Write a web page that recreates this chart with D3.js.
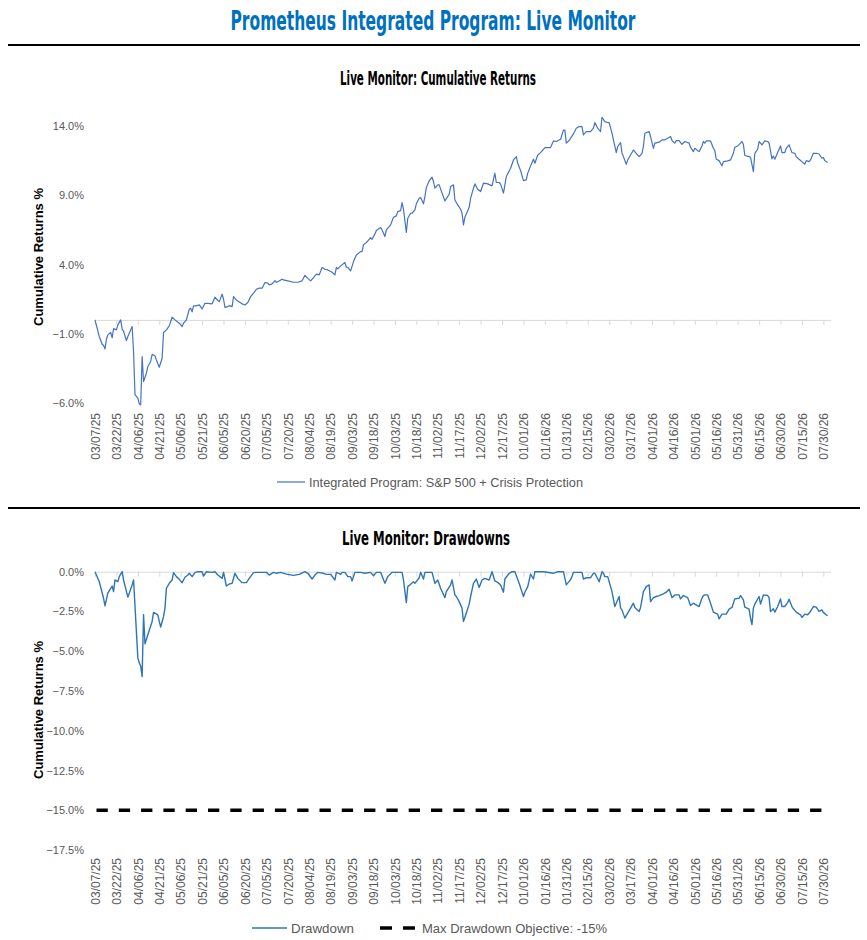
<!DOCTYPE html>
<html>
<head>
<meta charset="utf-8">
<script src="https://cdn.jsdelivr.net/npm/d3@7"></script>
<style>
body{margin:0;background:#fff;}
</style>
</head>
<body>
<svg></svg>
<script>
var w = 867
var h = 940

// dates on the x axis, every 15 days
var tickLabels = ["03/07/25","03/22/25","04/06/25","04/21/25","05/06/25","05/21/25","06/05/25","06/20/25",
	"07/05/25","07/20/25","08/04/25","08/19/25","09/03/25","09/18/25","10/03/25","10/18/25","11/02/25",
	"11/17/25","12/02/25","12/17/25","01/01/26","01/16/26","01/31/26","02/15/26","03/02/26","03/17/26",
	"04/01/26","04/16/26","05/01/26","05/16/26","05/31/26","06/15/26","06/30/26","07/15/26","07/30/26"]

var topTicks = [14, 9, 4, -1, -6]
var bottomTicks = [0, -2.5, -5, -7.5, -10, -12.5, -15, -17.5]

// [days since 03/07/25, cumulative return %]
var cumReturns = [[0,0],[3,-1.2],[5,-1.76],[6,-1.85],[7,-2.1],[8,-1.4],[9,-1.08],[11,-0.9],[12,-1.3],[13,-0.63],
	[15,-0.72],[16,-0.36],[18,0.0],[19,-0.67],[20,-0.82],[22,-1.5],[23,-1.2],[25,-0.72],[26,-0.48],[27,-2.3],
	[28,-5.4],[30,-5.65],[31,-6.06],[32,-6.14],[33,-2.65],[34,-4.45],[36,-3.85],[37,-3.37],[39,-3.0],[40,-2.48],
	[42,-2.6],[43,-2.9],[45,-3.42],[47,-2.77],[48,-0.91],[50,-0.72],[52,-0.43],[54,0.19],[56,0.0],[59,-0.24],
	[61,-0.48],[62,-0.24],[64,0.0],[66,0.77],[67,0.84],[68,0.58],[69,1.01],[71,1.01],[73,1.08],[75,0.79],
	[77,1.2],[79,1.2],[82,1.16],[84,1.64],[86,1.4],[87,1.32],[89,1.85],[90,1.49],[91,0.91],[93,0.96],
	[94,1.03],[96,0.96],[97,1.68],[99,1.44],[101,1.3],[103,1.16],[105,1.08],[107,1.25],[109,1.68],[111,1.93],
	[113,2.21],[115,2.29],[117,2.29],[119,2.7],[121,2.65],[122,2.53],[124,2.6],[126,2.84],[127,2.7],[131,2.94],
	[132,2.89],[135,2.82],[139,2.72],[142,2.72],[145,2.82],[147,3.22],[149,3.0],[151,2.82],[153,3.06],[155,3.3],
	[157,3.25],[159,3.78],[161,3.66],[163,3.61],[166,3.44],[168,3.25],[169,3.8],[170,3.68],[172,3.9],[175,4.14],
	[176,3.8],[177,3.8],[179,3.54],[181,4.21],[183,4.69],[186,4.93],[187,4.93],[188,5.42],[190,5.58],[193,5.94],
	[194,5.82],[196,6.21],[197,6.45],[200,6.67],[201,6.5],[203,6.02],[204,6.5],[207,6.86],[209,7.41],[211,7.51],
	[212,7.82],[214,7.89],[215,8.47],[216,7.99],[218,6.31],[219,7.34],[221,7.7],[222,7.7],[224,7.94],[225,8.38],
	[227,8.78],[228,8.83],[230,8.38],[231,8.9],[232,9.55],[234,10.04],[236,10.3],[237,9.99],[238,9.51],[240,9.75],
	[241,9.75],[243,9.15],[245,8.59],[248,9.07],[249,9.63],[251,9.75],[252,8.66],[254,8.3],[256,7.99],[257,7.7],
	[258,6.86],[259,7.41],[262,8.13],[263,8.78],[265,9.51],[266,9.82],[268,9.43],[270,9.27],[272,9.87],[275,9.82],
	[278,9.68],[280,10.59],[281,9.92],[283,9.92],[284,9.8],[286,9.15],[288,10.35],[291,10.95],[293,11.55],[295,11.79],
	[296,11.31],[298,10.78],[300,10.06],[302,10.11],[303,10.59],[305,11.12],[307,11.6],[308,11.31],[310,11.91],[312,12.08],
	[315,12.44],[317,12.44],[319,12.44],[321,12.92],[323,12.88],[326,13.04],[328,13.7],[329,13.7],[330,12.76],[332,12.95],
	[333,13.12],[335,13.43],[337,13.84],[339,13.96],[341,13.96],[342,13.36],[344,13.6],[347,13.6],[349,13.84],[350,14.25],
	[352,13.84],[354,13.6],[355,14.63],[357,14.32],[359,14.25],[360,14.25],[362,13.48],[363,13.0],[365,12.08],[366,12.52],
	[368,12.8],[369,12.03],[370,11.79],[372,11.24],[373,11.55],[375,11.91],[377,12.27],[379,12.03],[381,11.79],[383,12.03],
	[384,12.52],[385,13.48],[388,13.6],[389,13.24],[391,12.39],[392,12.76],[395,12.83],[397,13.0],[399,13.0],[401,13.12],
	[403,13.24],[404,12.95],[406,12.76],[407,12.95],[409,12.95],[411,12.68],[413,12.88],[416,12.76],[417,12.47],[419,12.15],
	[420,12.39],[422,12.22],[423,12.15],[425,12.56],[426,12.88],[427,12.76],[428,12.92],[431,12.92],[433,12.39],[434,12.22],
	[435,11.6],[437,11.5],[438,11.31],[439,11.12],[440,11.43],[443,11.48],[445,11.55],[447,12.03],[448,12.47],[450,12.56],
	[452,12.76],[453,12.88],[454,12.68],[455,11.87],[458,11.79],[459,11.74],[461,10.71],[462,12.03],[464,12.32],[465,12.88],
	[467,12.64],[469,12.92],[471,12.88],[472,12.76],[474,11.63],[475,11.84],[476,11.6],[478,12.08],[480,12.56],[481,12.08],
	[483,12.08],[484,12.39],[486,12.64],[488,12.08],[490,12.03],[491,11.79],[493,11.6],[495,11.43],[497,11.24],[498,11.5],
	[500,11.43],[501,11.55],[503,12.03],[505,12.03],[507,11.98],[509,11.67],[510,11.72],[511,11.5],[513,11.36]]

// [days since 03/07/25, drawdown %]
var drawdowns = [[0,0],[3,-0.63],[6,-1.67],[7,-2.15],[9,-1.35],[10,-1.19],[12,-0.9],[13,-1.25],[14,-0.52],[16,-0.63],
	[17,-0.31],[19,0],[20,-0.52],[23,-1.6],[24,-1.35],[26,-0.83],[27,-0.52],[30,-5.42],[31,-5.73],[32,-5.94],
	[33,-6.6],[34,-2.71],[35,-4.54],[37,-3.96],[40,-3.13],[41,-2.56],[44,-2.71],[45,-3.13],[46,-3.48],[48,-2.81],
	[49,-2.29],[50,-1.04],[52,-0.73],[54,-0.52],[55,-0.06],[57,-0.31],[59,-0.48],[61,-0.69],[63,-0.35],[65,-0.21],
	[66,-0.1],[68,-0.31],[70,-0.06],[72,0],[75,0],[76,-0.27],[78,0],[82,-0.04],[84,0],[86,-0.21],
	[89,-0.42],[90,-0.04],[92,-0.9],[94,-0.77],[96,-0.73],[98,-0.1],[100,-0.42],[103,-0.69],[106,-0.69],[108,-0.42],
	[111,-0.06],[113,-0.04],[120,-0.04],[122,-0.21],[125,-0.04],[127,-0.1],[130,-0.04],[134,-0.15],[139,-0.23],[143,-0.17],
	[147,0],[149,-0.1],[152,-0.46],[154,-0.21],[156,-0.04],[160,-0.1],[162,-0.17],[165,-0.17],[168,-0.52],[169,-0.04],
	[172,-0.17],[173,-0.04],[175,-0.04],[177,-0.31],[179,-0.31],[180,-0.58],[182,-0.04],[186,-0.04],[189,-0.1],[193,-0.04],
	[195,-0.25],[197,-0.04],[200,-0.04],[203,-0.73],[205,-0.31],[208,-0.04],[211,-0.04],[215,-0.04],[216,-0.52],[218,-1.94],
	[219,-0.94],[221,-0.79],[223,-0.63],[224,-0.73],[227,-0.38],[228,-0.04],[230,-0.46],[231,-0.04],[236,-0.04],[238,-0.73],
	[240,-0.52],[242,-1.04],[245,-1.63],[246,-1.25],[249,-0.83],[250,-0.52],[252,-1.46],[253,-1.56],[255,-1.88],[257,-2.29],
	[258,-3.13],[260,-2.6],[262,-2.04],[263,-1.56],[265,-0.73],[267,-0.46],[269,-1.0],[271,-0.52],[273,-0.42],[276,-0.52],
	[278,0],[280,-0.58],[282,-0.67],[284,-0.83],[286,-1.29],[287,-0.46],[290,-0.1],[292,0],[294,0],[297,-0.73],
	[300,-1.56],[301,-1.29],[303,-0.94],[305,-0.15],[307,-0.46],[308,0],[314,0],[321,-0.1],[324,0],[328,0],
	[330,-0.83],[333,-0.5],[334,-0.31],[335,-0.04],[341,-0.04],[342,-0.46],[344,-0.38],[347,-0.38],[349,-0.1],[350,-0.1],
	[353,-0.63],[355,0],[356,-0.1],[357,-0.31],[359,-0.31],[361,-0.94],[362,-1.25],[364,-2.19],[367,-1.56],[368,-2.29],
	[369,-2.4],[371,-2.92],[373,-2.6],[375,-2.29],[377,-1.98],[378,-2.25],[381,-2.5],[382,-2.25],[384,-1.25],[386,-0.94],
	[388,-0.83],[389,-1.88],[391,-1.63],[393,-1.56],[395,-1.5],[398,-1.4],[400,-1.29],[402,-1.1],[403,-1.35],[404,-1.63],
	[406,-1.46],[409,-1.46],[410,-1.71],[412,-1.5],[415,-1.63],[417,-2.13],[419,-1.98],[420,-2.04],[423,-2.19],[425,-1.67],
	[426,-1.5],[427,-1.46],[429,-1.46],[431,-1.98],[433,-2.54],[436,-2.67],[437,-2.96],[439,-2.67],[442,-2.67],[444,-2.35],
	[446,-2.25],[448,-1.71],[451,-1.67],[452,-1.5],[454,-1.77],[455,-2.23],[458,-2.35],[459,-2.92],[460,-3.33],[461,-2.29],
	[462,-2.04],[465,-1.56],[466,-2.04],[468,-1.46],[471,-1.5],[472,-1.63],[473,-2.5],[475,-2.33],[476,-2.54],[478,-2.19],
	[480,-1.71],[481,-2.19],[483,-2.19],[485,-1.94],[486,-1.73],[488,-2.19],[489,-2.33],[491,-2.54],[494,-2.71],[495,-2.88],
	[497,-2.67],[499,-2.71],[501,-2.5],[503,-2.19],[505,-2.23],[507,-2.5],[509,-2.4],[510,-2.56],[512,-2.71],[513,-2.77]]

var maxDrawdownObjective = -15

var titleFont = "'Liberation Sans Narrow','DejaVu Sans Condensed','Liberation Sans',sans-serif"
var bodyFont = "'Liberation Sans',Arial,sans-serif"
var axisGrey = "#d9d9d9"
var textGrey = "#595959"

var parse = d3.timeParse("%m/%d/%y")
var start = parse(tickLabels[0])
var tickDates = tickLabels.map(parse)

var svg = d3.select("svg")
	.attr("width", w)
	.attr("height", h)
	.style("background-color", "white")
	.style("display", "block")

var x = d3.scaleTime()
	.domain([start, d3.timeDay.offset(start, 515)])
	.range([95, 830.5])

var yTop = d3.scaleLinear().domain([-6, 14]).range([403, 126])
var yBot = d3.scaleLinear().domain([-17.5, 0]).range([850, 571.7])

function dayX(d){
	return x(d3.timeDay.offset(start, d[0]))
}

// titles and separators
svg.append("text")
	.attr("x", 433).attr("y", 30)
	.attr("text-anchor", "middle")
	.attr("textLength", 405).attr("lengthAdjust", "spacingAndGlyphs")
	.style("font-family", titleFont).style("font-size", "27px").style("font-weight", "bold")
	.style("fill", "#0070c0")
	.text("Prometheus Integrated Program: Live Monitor")

svg.append("line")
	.attr("x1", 8).attr("x2", 860).attr("y1", 45).attr("y2", 45)
	.attr("stroke", "black").attr("stroke-width", 2)

svg.append("line")
	.attr("x1", 8).attr("x2", 860).attr("y1", 508).attr("y2", 508)
	.attr("stroke", "black").attr("stroke-width", 2)

function subTitle(txt, cx, y, len){
	svg.append("text")
		.attr("x", cx).attr("y", y)
		.attr("text-anchor", "middle")
		.attr("textLength", len).attr("lengthAdjust", "spacingAndGlyphs")
		.style("font-family", titleFont).style("font-size", "20px").style("font-weight", "bold")
		.style("fill", "#000")
		.text(txt)
}
subTitle("Live Monitor: Cumulative Returns", 438, 85, 196)
subTitle("Live Monitor: Drawdowns", 426, 545, 168)

function yLabel(cy){
	svg.append("text")
		.attr("transform", "translate(43," + cy + ") rotate(-90)")
		.attr("text-anchor", "middle")
		.style("font-family", bodyFont).style("font-size", "13px").style("font-weight", "bold")
		.style("fill", "#000")
		.text("Cumulative Returns %")
}
yLabel(257)
yLabel(710)

// x axis: line at zero with ticks, labels low
function xAxis(y0, labelTop){
	var ax = svg.append("g")
		.attr("transform", "translate(0," + y0 + ")")
		.call(d3.axisBottom(x).tickValues(tickDates).tickSize(5).tickSizeOuter(0).tickFormat(""))
	ax.selectAll("path,line").attr("stroke", axisGrey)

	var lab = svg.append("g")
		.attr("transform", "translate(0," + labelTop + ")")
		.call(d3.axisBottom(x).tickValues(tickDates).tickSize(0).tickFormat(d3.timeFormat("%m/%d/%y")))
	lab.select(".domain").remove()
	lab.selectAll("text")
		.attr("transform", "rotate(-90)")
		.attr("x", 0).attr("y", 0).attr("dy", "0.35em")
		.style("text-anchor", "end")
		.style("font-family", bodyFont).style("font-size", "12px")
		.style("fill", textGrey)
}
xAxis(yTop(0), 413)
xAxis(yBot(0), 858)

function yAxis(scale, ticks){
	var ay = svg.append("g")
		.attr("transform", "translate(86,0)")
		.call(d3.axisLeft(scale).tickValues(ticks).tickSize(0).tickPadding(2)
			.tickFormat(function(d){ return d3.format(".1f")(d) + "%" }))
	ay.select(".domain").remove()
	ay.selectAll("text")
		.style("font-family", bodyFont).style("font-size", "11px")
		.style("fill", textGrey)
}
yAxis(yTop, topTicks)
yAxis(yBot, bottomTicks)

// series
svg.append("path")
	.datum(cumReturns)
	.attr("fill", "none")
	.attr("stroke", "#4472c4")
	.attr("stroke-width", 1.2)
	.attr("stroke-linejoin", "round")
	.attr("d", d3.line().x(dayX).y(function(d){ return yTop(d[1]) }))

svg.append("path")
	.datum(tickDates.filter(function(d, i){ return i == 0 || i == tickDates.length - 1 }))
	.attr("fill", "none")
	.attr("stroke", "black")
	.attr("stroke-width", 3.5)
	.attr("stroke-dasharray", "11.3,11")
	.attr("d", d3.line().x(function(d){ return x(d) + 1.5 }).y(function(){ return yBot(maxDrawdownObjective) }))

svg.append("path")
	.datum(drawdowns)
	.attr("fill", "none")
	.attr("stroke", "#2e75b6")
	.attr("stroke-width", 1.4)
	.attr("stroke-linejoin", "round")
	.attr("d", d3.line().x(dayX).y(function(d){ return yBot(d[1]) }))

// legends
function legendText(x0, y0, len, txt){
	svg.append("text")
		.attr("x", x0).attr("y", y0)
		.attr("textLength", len).attr("lengthAdjust", "spacingAndGlyphs")
		.style("font-family", bodyFont).style("font-size", "13px")
		.style("fill", textGrey)
		.text(txt)
}

svg.append("line")
	.attr("x1", 277).attr("x2", 305).attr("y1", 482).attr("y2", 482)
	.attr("stroke", "#4472c4").attr("stroke-width", 1.2)
legendText(309, 487, 274, "Integrated Program: S&P 500 + Crisis Protection")

svg.append("line")
	.attr("x1", 252).attr("x2", 287).attr("y1", 928).attr("y2", 928)
	.attr("stroke", "#2e75b6").attr("stroke-width", 1.4)
legendText(291, 933, 63, "Drawdown")

svg.append("line")
	.attr("x1", 380).attr("x2", 415).attr("y1", 928).attr("y2", 928)
	.attr("stroke", "black").attr("stroke-width", 3.5)
	.attr("stroke-dasharray", "12,11")
legendText(422, 933, 185, "Max Drawdown Objective: -15%")
</script>
</body>
</html>
